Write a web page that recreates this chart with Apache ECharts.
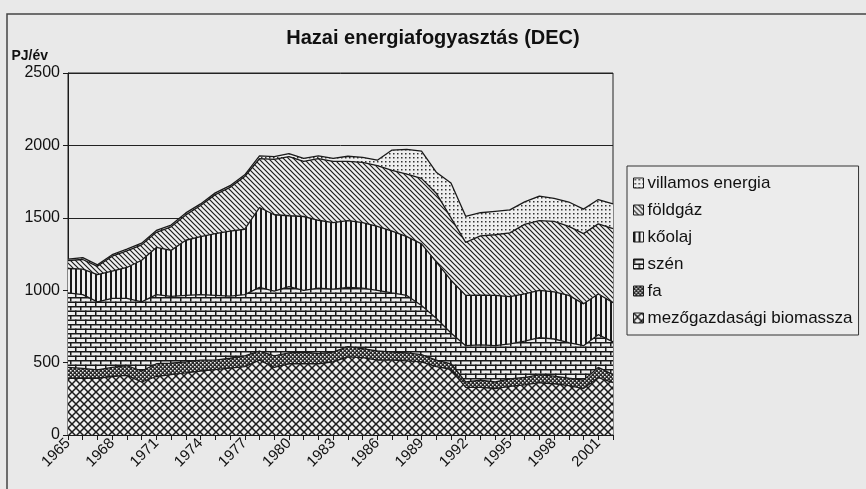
<!DOCTYPE html>
<html>
<head>
<meta charset="UTF-8">
<title>Hazai energiafogyasztás (DEC)</title>
<script src="https://cdn.jsdelivr.net/npm/echarts/dist/echarts.min.js"></script>
<style>
  html, body { margin: 0; padding: 0; background: #e9e9e9; }
  #chart { width: 866px; height: 489px; }
</style>
</head>
<body>
<div id="chart"></div>
<script>
// évek (kategóriák)
var years = ['1965','1966','1967','1968','1969','1970','1971','1972','1973','1974',
  '1975','1976','1977','1978','1979','1980','1981','1982','1983','1984',
  '1985','1986','1987','1988','1989','1990','1991','1992','1993','1994',
  '1995','1996','1997','1998','1999','2000','2001','2002'];

// PJ/év, alulról felfelé halmozva
var biomassza = [392,392,392,404,412,366,404,417,429,442,
  452,462,472,517,467,492,492,492,505,540,
  535,517,517,512,505,472,454,329,329,321,
  336,346,361,354,341,321,397,361];
var fa = [75,68,58,63,67,76,88,80,76,75,
  65,68,75,63,80,75,80,70,67,70,
  62,63,55,55,50,45,38,37,50,45,
  51,51,56,53,51,58,70,56];
var szen = [514,509,469,477,465,477,478,460,459,452,
  447,429,422,439,447,457,427,452,435,409,
  417,419,409,397,339,289,213,251,243,251,
  243,251,256,256,246,238,226,226];
var koolaj = [169,176,188,188,213,288,325,318,381,401,
  426,449,452,552,527,490,510,469,459,461,
  452,442,427,406,426,389,364,347,344,347,
  326,326,326,326,326,289,281,271];
var foldgaz = [55,67,58,103,115,106,105,163,175,215,
  270,302,364,337,382,409,381,425,424,410,
  417,419,419,432,452,475,431,366,409,419,
  440,481,481,487,477,485,484,512];
var villamos = [10,13,10,10,11,12,13,12,14,11,
  12,12,12,20,20,20,20,20,20,35,
  35,38,141,171,188,145,240,180,160,162,
  159,155,170,158,168,169,168,170];

var yTicks = [0, 500, 1000, 1500, 2000, 2500];

var PAPER = '#efefef';
var INK = '#1a1a1a';

// mintázatok (Excel-szerű fekete-fehér kitöltés)
function tile(w, h, draw) {
  var c = document.createElement('canvas');
  c.width = w; c.height = h;
  var g = c.getContext('2d');
  g.fillStyle = PAPER;
  g.fillRect(0, 0, w, h);
  g.fillStyle = INK;
  g.strokeStyle = INK;
  draw(g);
  return { image: c, repeat: 'repeat' };
}
var patCross = tile(8, 8, function (g) {
  g.lineWidth = 1.5;
  g.beginPath();
  g.moveTo(-1, -1); g.lineTo(9, 9);
  g.moveTo(9, -1); g.lineTo(-1, 9);
  g.stroke();
});
var patChecker = tile(4, 4, function (g) {
  g.fillStyle = '#2a2a2a';
  g.fillRect(0, 0, 4, 4);
  g.fillStyle = PAPER;
  g.fillRect(0, 0, 1.5, 1.5);
  g.fillRect(2, 2, 1.5, 1.5);
});
var patBrick = tile(10, 9, function (g) {
  g.fillRect(0, 0, 10, 1.5);
  g.fillRect(0, 4.5, 10, 1.5);
  g.fillRect(0, 0, 1.5, 4.5);
  g.fillRect(5, 4.5, 1.5, 4.5);
});
var patVert = tile(5, 4, function (g) {
  g.fillRect(0, 0, 2, 4);
});
var patDiag = tile(5, 5, function (g) {
  g.lineWidth = 1.2;
  g.beginPath();
  g.moveTo(-1, -1); g.lineTo(6, 6);
  g.moveTo(4, -1); g.lineTo(6, 1);
  g.moveTo(-1, 4); g.lineTo(1, 6);
  g.stroke();
});
var patDots = tile(4, 4, function (g) {
  g.fillStyle = '#333';
  g.fillRect(1, 1, 1.5, 1.5);
});

var layers = [
  ['mezőgazdasági biomassza', biomassza, patCross],
  ['fa', fa, patChecker],
  ['szén', szen, patBrick],
  ['kőolaj', koolaj, patVert],
  ['földgáz', foldgaz, patDiag],
  ['villamos energia', villamos, patDots]
];

var series = layers.map(function (l) {
  return {
    name: l[0],
    type: 'line',
    stack: 'total',
    data: l[1],
    symbol: 'none',
    lineStyle: { color: INK, width: 1.3 },
    itemStyle: { color: l[2] },
    areaStyle: { color: l[2], opacity: 1 }
  };
});

var legendData = layers.slice().reverse().map(function (l) {
  return { name: l[0], icon: 'rect', itemStyle: { color: l[2], borderColor: INK, borderWidth: 1 } };
});

var font = '"Liberation Sans", Arial, sans-serif';
var chart = echarts.init(document.getElementById('chart'));
chart.setOption({
  backgroundColor: '#e9e9e9',
  animation: false,
  textStyle: { fontFamily: font, color: '#111' },
  title: {
    text: 'Hazai energiafogyasztás (DEC)',
    left: 'center',
    top: 23,
    textStyle: { fontFamily: font, fontSize: 20, fontWeight: 'bold', color: '#111' }
  },
  legend: {
    orient: 'vertical',
    left: 627,
    top: 166,
    padding: [8, 6, 8, 6],
    icon: 'rect',
    itemWidth: 10,
    itemHeight: 10,
    itemGap: 9,
    borderColor: '#333',
    borderWidth: 1,
    backgroundColor: '#ececec',
    textStyle: { fontFamily: font, fontSize: 17, color: '#111', lineHeight: 18, padding: [0, 0, 0, -1] },
    data: legendData
  },
  grid: {
    left: 68, right: 253, top: 73, bottom: 54,
    show: true, borderColor: '#222', borderWidth: 1
  },
  xAxis: {
    type: 'category',
    data: years,
    boundaryGap: false,
    axisLine: { lineStyle: { color: INK, width: 1 } },
    axisTick: { show: true, interval: 0, length: 5, lineStyle: { color: INK } },
    axisLabel: { interval: 2, rotate: 45, fontSize: 15, color: '#111', margin: 6 }
  },
  yAxis: {
    type: 'value',
    min: yTicks[0],
    max: yTicks[yTicks.length - 1],
    interval: 500,
    name: 'PJ/év',
    nameGap: 10,
    nameTextStyle: { fontFamily: font, fontSize: 14, fontWeight: 'bold', color: '#111', align: 'right', padding: [0, 20, 0, 0] },
    axisLine: { show: true, lineStyle: { color: INK } },
    axisTick: { show: true, length: 5, lineStyle: { color: INK } },
    axisLabel: { fontSize: 16, color: '#111', margin: 8, formatter: function (v) { return String(v); } },
    splitLine: { lineStyle: { color: '#222', width: 1 } }
  },
  graphic: [{
    type: 'polyline',
    shape: { points: [[7, 489], [7, 14], [866, 14]] },
    style: { stroke: '#444', lineWidth: 1.5, fill: null }
  }],
  series: series
});
</script>
</body>
</html>
